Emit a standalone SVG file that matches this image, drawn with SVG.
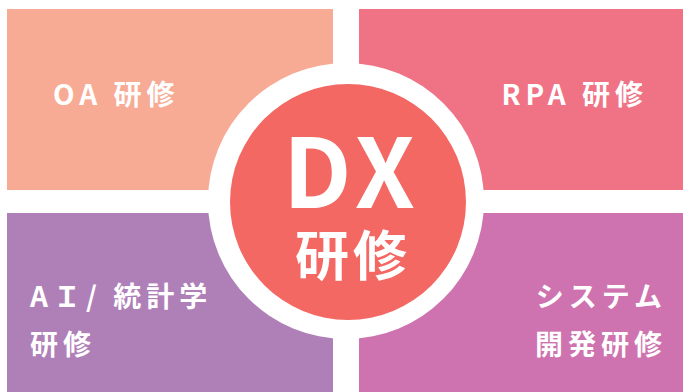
<svg xmlns="http://www.w3.org/2000/svg" width="683" height="392" viewBox="0 0 683 392">
<style>
.t{font-family:"Noto Sans CJK JP","Noto Sans",sans-serif;font-weight:700;fill:#fff;font-size:28px;letter-spacing:5px}
.c{font-family:"Noto Sans CJK JP","Noto Sans",sans-serif;font-weight:700;fill:#fff}
</style>
<rect width="683" height="392" fill="#fff"/>
<g id="oa"><rect x="7" y="9" width="326" height="181" fill="#F7AB95"/><text class="t" x="53" y="105">OA 研修</text></g>
<g id="rpa"><rect x="359" y="9" width="324" height="181" fill="#F07285"/><text class="t" x="648" y="105" text-anchor="end">RPA 研修</text></g>
<g id="ai"><rect x="7" y="213" width="326" height="179" fill="#AF80B8"/><text class="t" x="30" y="307">AＩ/ 統計学</text><text class="t" x="30" y="355">研修</text></g>
<g id="sys"><rect x="359" y="213" width="324" height="179" fill="#CE73AF"/><text class="t" x="667" y="307" text-anchor="end">システム</text><text class="t" x="667" y="355" text-anchor="end">開発研修</text></g>
<g id="dx"><circle cx="346" cy="201" r="138" fill="#fff"/><circle cx="348" cy="202" r="118" fill="#F46864"/>
<text class="c" x="352" y="208" text-anchor="middle" font-size="96" letter-spacing="6">DX</text>
<text class="c" x="353" y="276" text-anchor="middle" font-size="54" letter-spacing="4">研修</text></g>
<g id="connectors"/>
</svg>
